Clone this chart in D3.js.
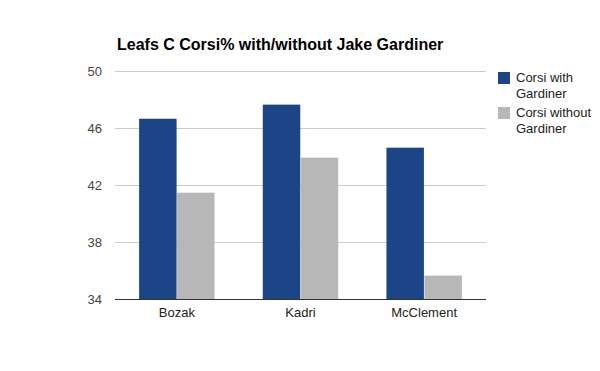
<!DOCTYPE html>
<html>
<head>
<meta charset="utf-8">
<script src="https://cdn.jsdelivr.net/npm/d3@7"></script>
<style>
  body { margin: 0; background: #fff; }
  text { font-family: "Liberation Sans", Arial, sans-serif; }
</style>
</head>
<body>
<div id="chart"></div>
<script>
const players = ["Bozak", "Kadri", "McClement"]
const series_names = ["Corsi with Gardiner", "Corsi without Gardiner"]
const with_gardiner = [46.65, 47.64, 44.62]
const without_gardiner = [41.46, 43.92, 35.64]
const y_ticks = [34, 38, 42, 46, 50]
const colors = ["#1c4587", "#b7b7b7"]

const width = 600
const height = 371
const margin = {top: 71, right: 114, bottom: 72, left: 115}

const svg = d3.select("#chart").append("svg")
    .attr("width", width)
    .attr("height", height)

// title
svg.append("text")
    .attr("x", 117)
    .attr("y", 50)
    .attr("font-size", 16)
    .attr("font-weight", "bold")
    .attr("fill", "#000")
    .text("Leafs C Corsi% with/without Jake Gardiner")

const xScale = d3.scaleBand()
    .domain(players)
    .range([margin.left, width - margin.right])
    .paddingInner(0.39)
    .paddingOuter(0.195)

const xSub = d3.scaleBand()
    .domain([0, 1])
    .range([0, xScale.bandwidth()])
    .paddingInner(0.013)

const yScale = d3.scaleLinear()
    .domain([34, 50])
    .range([height - margin.bottom, margin.top])

// gridlines + y labels
const grid = svg.append("g")
grid.selectAll("line")
    .data(y_ticks)
    .join("line")
    .attr("x1", margin.left)
    .attr("x2", width - margin.right)
    .attr("y1", d => Math.round(yScale(d)) + 0.5)
    .attr("y2", d => Math.round(yScale(d)) + 0.5)
    .attr("stroke", "#cccccc")

grid.selectAll("text")
    .data(y_ticks)
    .join("text")
    .attr("x", 102)
    .attr("y", d => yScale(d) + 4.5)
    .attr("text-anchor", "end")
    .attr("font-size", 13)
    .attr("fill", "#444")
    .text(d => d)

// bars
const groups = svg.append("g").selectAll("g")
    .data(players)
    .join("g")
    .attr("transform", d => `translate(${xScale(d)},0)`)

groups.selectAll("rect")
    .data((d, i) => [with_gardiner[i], without_gardiner[i]])
    .join("rect")
    .attr("x", (d, j) => xSub(j))
    .attr("width", xSub.bandwidth())
    .attr("y", d => yScale(d))
    .attr("height", d => yScale(34) - yScale(d))
    .attr("fill", (d, j) => colors[j])

// baseline
svg.append("line")
    .attr("x1", margin.left)
    .attr("x2", width - margin.right)
    .attr("y1", Math.round(yScale(34)) + 0.5)
    .attr("y2", Math.round(yScale(34)) + 0.5)
    .attr("stroke", "#333")

// x labels
svg.append("g").selectAll("text")
    .data(players)
    .join("text")
    .attr("x", d => xScale(d) + xScale.bandwidth() / 2)
    .attr("y", 317)
    .attr("text-anchor", "middle")
    .attr("font-size", 13)
    .attr("fill", "#222")
    .text(d => d)

// legend
const legend = svg.append("g").selectAll("g")
    .data(series_names)
    .join("g")
    .attr("transform", (d, i) => `translate(498,${72 + i * 35})`)

legend.append("rect")
    .attr("width", 12)
    .attr("height", 12)
    .attr("fill", (d, i) => colors[i])

legend.append("text")
    .attr("x", 18)
    .attr("y", 10)
    .attr("font-size", 13)
    .attr("fill", "#222")
    .selectAll("tspan")
    .data(d => {
        const parts = d.split(" ")
        return [parts.slice(0, 2).join(" "), parts.slice(2).join(" ")]
    })
    .join("tspan")
    .attr("x", 18)
    .attr("dy", (d, i) => i === 0 ? 0 : 16)
    .text(d => d)
</script>
</body>
</html>
